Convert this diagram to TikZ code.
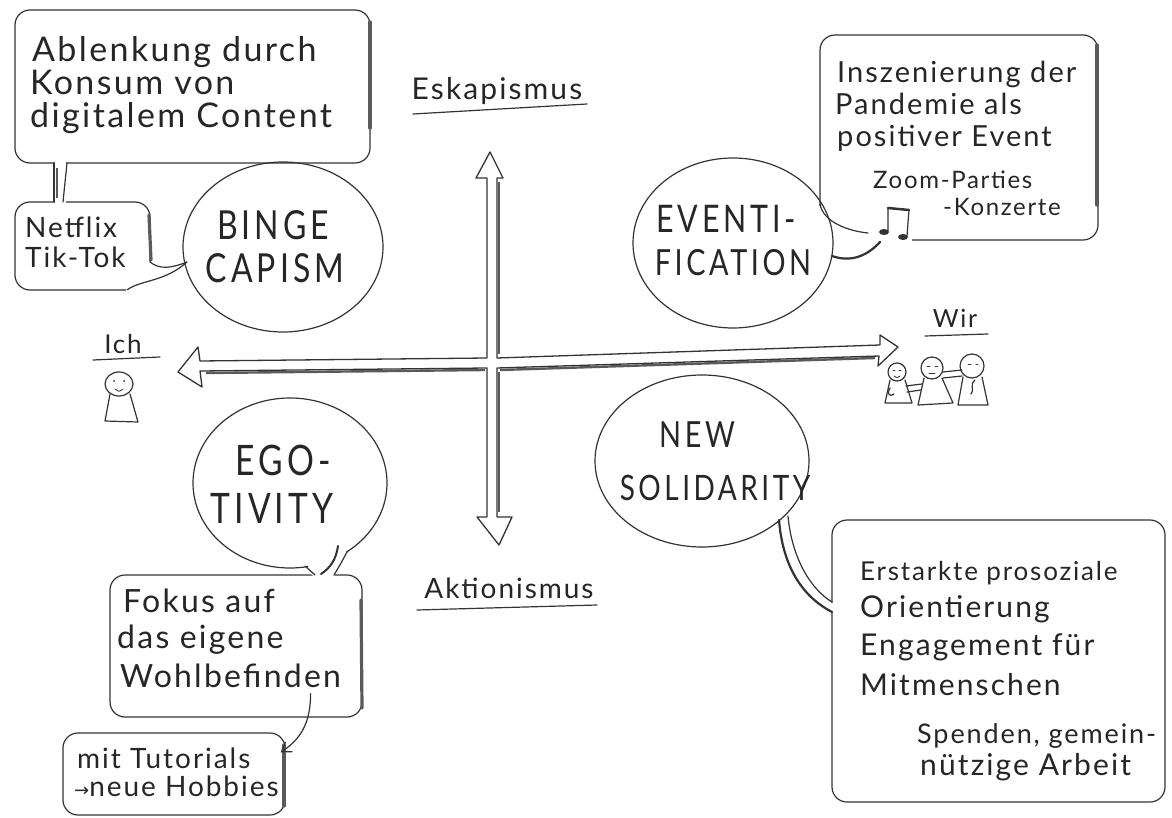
\documentclass[tikz,border=0pt]{standalone}
\usepackage{fontspec}
\setmainfont{Lato}
\newfontfamily\hand[LetterSpace=7]{Lato}
\newfontfamily\capsf[FakeStretch=0.8,LetterSpace=10]{Lato}
\newfontfamily\symf{DejaVu Sans}
\usetikzlibrary{shapes.geometric,arrows.meta}
\definecolor{pencil}{HTML}{333333}
\definecolor{ink}{HTML}{262626}
\definecolor{shade}{HTML}{5a5a5a}
\newcommand\hwsize[1]{\hand\fontsize{#1}{#1}\selectfont}
\newcommand\bgsize[1]{\capsf\fontsize{#1}{#1}\selectfont}
\begin{document}
\begin{tikzpicture}[x=1pt,y=-1pt,
  pen/.style={draw=pencil,line width=1.2pt,line cap=round,line join=round},
  bubble/.style={pen,rectangle,rounded corners=15pt,inner sep=0pt},
  blobspot/.style={ellipse,inner sep=0pt},
  shadowline/.style={draw=shade,line width=3.2pt,line cap=round},
  eraser/.style={fill=white,draw=none},
  hw/.style={text=ink,inner sep=0pt,anchor=base west},
  lbl/.style={text=ink,inner sep=0pt,anchor=base},
  big/.style={text=ink,inner sep=0pt,anchor=base},
  axisline/.style={pen,line width=1.3pt},
  thinpen/.style={draw=pencil,line width=0.8pt,line cap=round},
]
\useasboundingbox (0,0) rectangle (1172,818);
\fill[white] (0,0) rectangle (1172,818);

% ================= BINGE CAPISM =================
\node[bubble,minimum width=355pt,minimum height=153pt] (boxA) at (192.5,86.5) {};
\node[bubble,minimum width=135pt,minimum height=88pt] (boxN) at (82.5,246) {};
\node[blobspot,minimum width=200pt,minimum height=170pt] (binge) at (283,247) {};
\draw[pen] (binge.center) ellipse [x radius=100pt,y radius=85pt];
\draw[shadowline] (370,22) -- (370,128);
\draw[shadowline] (149,215) -- (151,260);
\path[eraser] (55,158) rectangle (66,207);
\draw[pen] (54,163) -- (54,202);
\draw[pen] (67,163) -- (63,202);
\draw[draw=shade,line width=2.5pt] (57,168) -- (57,198);
\path[eraser] (126,262) rectangle (153,293);
\draw[pen] (150,262) .. controls (160,270) and (172,268) .. (187,262);
\draw[pen] (127,290) .. controls (140,280) and (165,282) .. (187,262);

\node[hw,font=\hwsize{34}] (tA1) at (32,62) {Ablenkung durch};
\node[hw,font=\hwsize{34}] (tA2) at (30,95) {Konsum von};
\node[hw,font=\hwsize{34}] (tA3) at (30,128) {digitalem Content};
\node[hw,font=\hwsize{28}] (tN1) at (25,238) {Netflix};
\node[hw,font=\hwsize{28}] (tN2) at (25,268) {Tik-Tok};
\node[big,font=\bgsize{40}] (bg1) at (273,240) {BINGE};
\node[big,font=\bgsize{40}] (bg2) at (275,283) {CAPISM};

% ================= EVENTIFICATION =================
\node[bubble,minimum width=278pt,minimum height=205pt] (boxI) at (959,137.5) {};
\draw[shadowline] (1097,45) -- (1097,205);
\path[eraser] (815,206) rectangle (827,247);
\path[eraser] (815,234) rectangle (912,247);
\node[blobspot,minimum width=200pt,minimum height=170pt] (event) at (733,243) {};
\draw[pen] (event.center) ellipse [x radius=100pt,y radius=85pt];
\draw[pen] (820,204) .. controls (823,222) and (848,231) .. (868,233);
\draw[pen,line width=2.2pt] (832,256) .. controls (852,263) and (868,255) .. (880,242);
\fill[pencil] (884,232) ellipse [x radius=5pt,y radius=3pt];
\fill[pencil] (903,237) ellipse [x radius=5pt,y radius=3pt];
\draw[pen] (888,231) -- (888,208) -- (909,210) -- (907,236);
\draw[pen,line width=2.5pt] (888,208) -- (909,210);

\node[hw,font=\hwsize{29}] (tI1) at (837,83) {Inszenierung der};
\node[hw,font=\hwsize{29}] (tI2) at (835,115) {Pandemie als};
\node[hw,font=\hwsize{29}] (tI3) at (837,147) {positiver Event};
\node[hw,font=\hwsize{24}] (tI4) at (873,189) {Zoom-Parties};
\node[hw,font=\hwsize{24}] (tI5) at (943,216) {-Konzerte};
\node[big,font=\bgsize{38}] (ev1) at (726,233) {EVENTI-};
\node[big,font=\bgsize{36}] (ev2) at (733,276) {FICATION};

% ================= NEW SOLIDARITY =================
\node[blobspot,minimum width=214pt,minimum height=172pt] (soli) at (702,461) {};
\draw[pen] (soli.center) ellipse [x radius=107pt,y radius=86pt];
\node[bubble,minimum width=333pt,minimum height=282pt] (boxS) at (998.5,661) {};
\path[eraser] (828,603) rectangle (837,611);
\draw[pen,line width=2.2pt] (779,520) .. controls (783,570) and (805,598) .. (832,612);
\draw[pen] (788,516) .. controls (792,560) and (812,590) .. (832,602);

\node[hw,font=\hwsize{26}] (tS1) at (860,580) {Erstarkte prosoziale};
\node[hw,font=\hwsize{30}] (tS2) at (860,617) {Orientierung};
\node[hw,font=\hwsize{30}] (tS3) at (860,655) {Engagement für};
\node[hw,font=\hwsize{30}] (tS4) at (860,695) {Mitmenschen};
\node[hw,font=\hwsize{27}] (tS5) at (917,743) {Spenden, gemein-};
\node[hw,font=\hwsize{30}] (tS6) at (920,775) {nützige Arbeit};
\node[big,font=\bgsize{36}] (so1) at (697,447) {NEW};
\node[big,font=\bgsize{35}] (so2) at (715,500) {SOLIDARITY};

% ================= EGO-TIVITY =================
\node[blobspot,minimum width=194pt,minimum height=170pt] (ego) at (290,483) {};
\draw[pen] (ego.center) ellipse [x radius=97pt,y radius=85pt];
\node[bubble,minimum width=252pt,minimum height=142pt] (boxF) at (236,646) {};
\node[bubble,minimum width=222pt,minimum height=82pt] (boxM) at (174,774) {};
\draw[shadowline] (361,600) -- (362,708);
\draw[shadowline] (284,745) -- (284,806);
\path[eraser] (309,560) -- (346,546) -- (346,558) -- (332,579) -- (316,579) -- (308,571) -- cycle;
\draw[pen] (305,566) .. controls (310,570) .. (315,575);
\draw[pen] (347,552) .. controls (340,565) .. (334,575);
\draw[pen,line width=2pt] (338,546) .. controls (336,560) and (330,568) .. (321,574);
\draw[pen,-{Straight Barb[length=9pt,width=12pt]}] ([xshift=-52pt,yshift=24pt]boxF.south east) .. controls +(0,32) and +(18,-12) .. ([xshift=-5pt,yshift=-20pt]boxM.north east);

\node[hw,font=\hwsize{32}] (tF1) at (123,612) {Fokus auf};
\node[hw,font=\hwsize{32}] (tF2) at (117,648) {das eigene};
\node[hw,font=\hwsize{32}] (tF3) at (120,687) {Wohlbefinden};
\node[hw,font=\hwsize{28}] (tM1) at (77,768) {mit Tutorials};
\node[hw,font=\hwsize{28}] (tM2) at (74,796) {{\symf\fontsize{18}{18}\selectfont →}neue Hobbies};
\node[big,font=\bgsize{42}] (eg1) at (283,475) {EGO-};
\node[big,font=\bgsize{42}] (eg2) at (272,523) {TIVITY};

% ================= AXES =================
\draw[axisline] (490,152) -- (503,178) -- (497,178) -- (497,358) -- (880,345) -- (880,335) -- (898,347) -- (878,366) -- (879,356) -- (497,368) -- (497,517) -- (512,517) -- (499,545) -- (477,517) -- (487,517) -- (487,368) -- (200,371) -- (202,387) -- (178,372) -- (198,347) -- (200,361) -- (487,358) -- (487,178) -- (476,178) -- cycle;
\draw[draw=shade,line width=2.4pt] (206,373) -- (485,370);
\draw[draw=shade,line width=2.4pt] (500,370) -- (875,358);
\draw[draw=shade,line width=2pt] (499,182) -- (499,354);
\draw[draw=shade,line width=2pt] (499,372) -- (499,512);

\node[lbl,font=\hwsize{30}] (esk) at (497,100) {Eskapismus};
\draw[pen] (413,114) -- (587,104);
\node[lbl,font=\hwsize{28}] (akt) at (509,598) {Aktionismus};
\draw[pen] (417,610) -- (597,605);
\node[lbl,font=\hwsize{26}] (ich) at (123,353) {Ich};
\draw[pen] (93,360) -- (160,357);
\node[lbl,font=\hwsize{25}] (wir) at (955,327) {Wir};
\draw[pen] (925,336) -- (988,334);

% Ich figure
\draw[pen] (119,384) ellipse [x radius=14pt,y radius=12pt];
\draw[pen] (110,394) -- (105,421) -- (138,422) -- (130,394);
\fill[pencil] (114,381) circle [radius=1pt];
\fill[pencil] (124,381) circle [radius=1pt];
\draw[thinpen] (115,389) .. controls (119,392) .. (123,389);

% Wir figures
\draw[pen] (897,372) ellipse [x radius=9pt,y radius=9pt];
\draw[pen] (890,380) -- (885,403) -- (912,403) -- (905,380);
\draw[pen] (932,368) ellipse [x radius=11pt,y radius=11pt];
\draw[pen] (924,378) -- (918,405) -- (953,403) -- (942,378);
\draw[pen] (972,366) ellipse [x radius=12pt,y radius=12pt];
\draw[pen] (963,377) -- (958,405) -- (988,405) -- (982,377);
\draw[pen] (906,386) -- (922,384);
\draw[pen] (907,392) -- (921,390);
\draw[pen] (943,372) -- (962,370);
\draw[pen] (943,378) -- (962,376);
\draw[pen] (890,388) .. controls (886,393) and (890,398) .. (894,394);
\draw[pen] (975,380) .. controls (969,385) and (975,390) .. (971,394);
\draw[thinpen] (893,370) -- (895,370);
\draw[thinpen] (899,370) -- (901,370);
\draw[thinpen] (894,376) .. controls (897,378) .. (900,376);
\draw[thinpen] (927,366) -- (930,366);
\draw[thinpen] (935,366) -- (938,366);
\draw[thinpen] (929,373) -- (935,373);
\draw[thinpen] (968,364) -- (971,364);
\draw[thinpen] (976,364) -- (978,364);
\end{tikzpicture}
\end{document}
